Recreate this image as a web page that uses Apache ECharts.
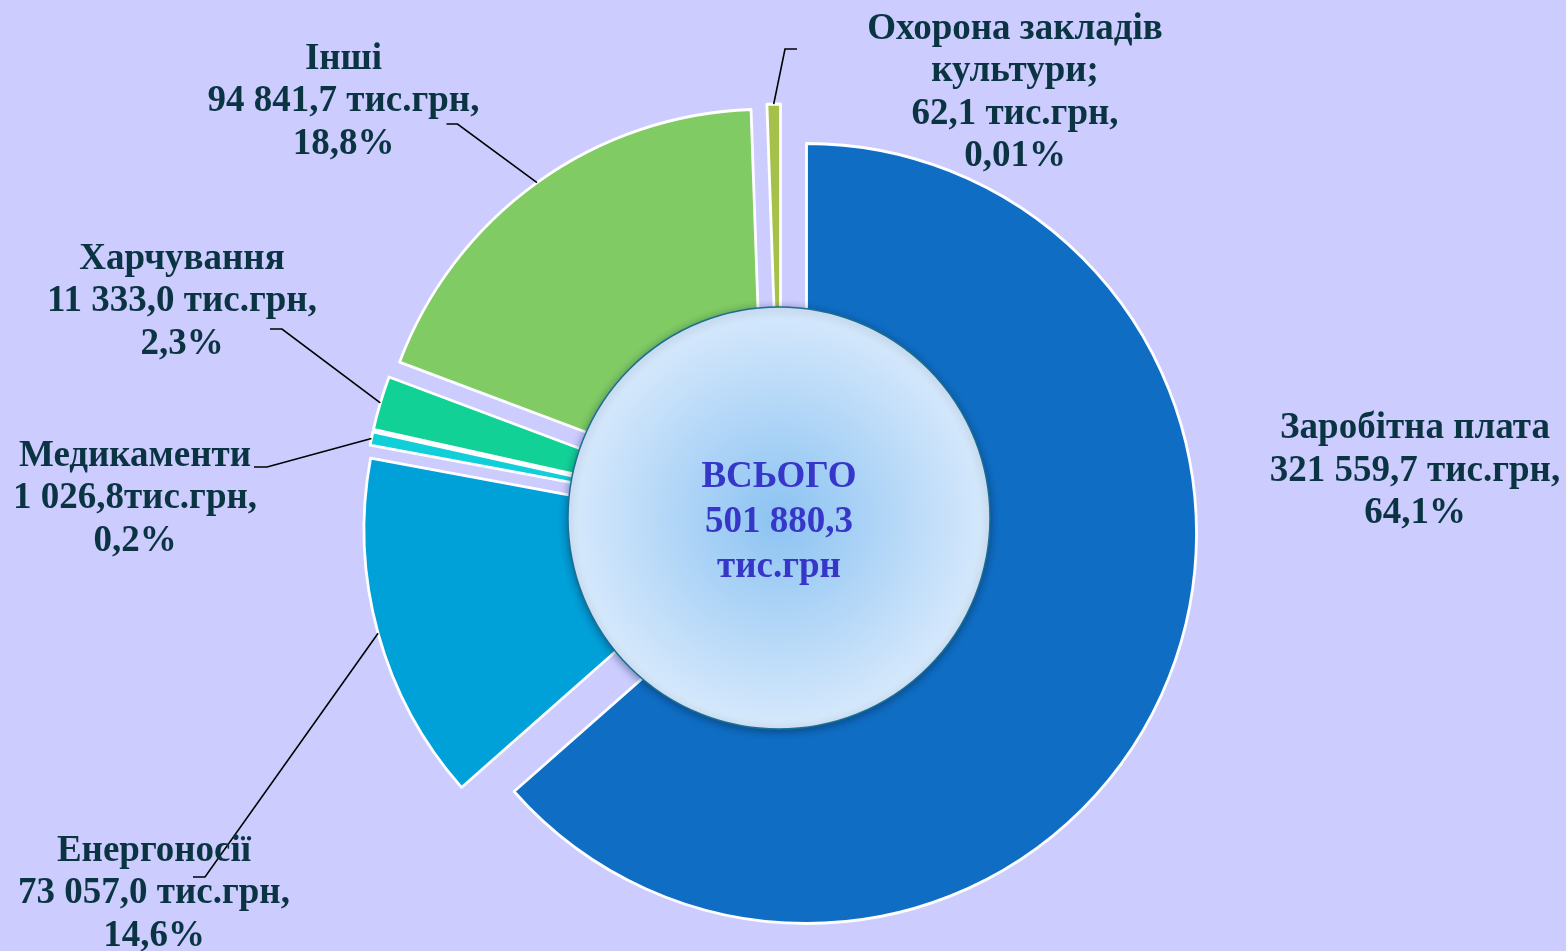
<!DOCTYPE html>
<html><head><meta charset="utf-8">
<script src="https://cdn.jsdelivr.net/npm/echarts@6/dist/echarts.min.js"></script>
<style>html,body{margin:0;padding:0;background:#CCCCFF;} #chart{width:1566px;height:951px;}</style>
</head><body><div id="chart"></div>
<script>
// ---- data ----
const categories = ['Заробітна плата', 'Енергоносії', 'Медикаменти', 'Харчування', 'Інші', 'Охорона закладів\nкультури;'];
const values = [321559.7, 73057.0, 1026.8, 11333.0, 94841.7, 62.1];
const percentLabels = ['64,1%', '14,6%', '0,2%', '2,3%', '18,8%', '0,01%'];
const unitSeparators = [' ', ' ', '', ' ', ' ', ' '];
const unitText = 'тис.грн';
const totalTitle = 'ВСЬОГО';

// ---- styles / layout ----
const colors = ['#0F6EC4', '#00A0D8', '#10CFD9', '#12D197', '#80CB63', '#A6C14A'];
const pieCenter = [781, 522];
const pieRadius = [160, 390];
const explode = 28;
const labelPlacement = [
  { x: 1415, y: 471, elbow: null, end: null },
  { x: 154, y: 893.5, elbow: [51, -16.5], end: [39, -16.5] },
  { x: 135, y: 498.5, elbow: [132, -31.5], end: [119, -31.5] },
  { x: 182, y: 301.5, elbow: [100, 27.5], end: [88, 27.5] },
  { x: 343.5, y: 101.5, elbow: [114, 22.5], end: [103, 22.5] },
  { x: 1015, y: 93, elbow: [-230, -44], end: [-218, -44] }
];
const serif = '"Liberation Serif", "Times New Roman", "DejaVu Serif", serif';

function fmt(v) {
  const parts = v.toFixed(1).split('.');
  return parts[0].replace(/\B(?=(\d{3})+(?!\d))/g, ' ') + ',' + parts[1];
}
const total = values.reduce((a, b) => a + b, 0);

const common = {
  type: 'pie',
  center: pieCenter,
  radius: pieRadius,
  startAngle: 90,
  clockwise: true,
  minAngle: 2,
  avoidLabelOverlap: false,
  emphasis: { disabled: true }
};

const chart = echarts.init(document.getElementById('chart'), null, { renderer: 'canvas' });
chart.setOption({
  backgroundColor: '#CCCCFF',
  animation: false,
  series: [
    // visible exploded doughnut
    Object.assign({}, common, {
      selectedMode: 'multiple',
      selectedOffset: explode,
      silent: true,
      itemStyle: { borderColor: '#FFFFFF', borderWidth: 2.8 },
      label: { show: false },
      labelLine: { show: false },
      data: categories.map(function (c, i) {
        return { name: c, value: values[i], selected: true, itemStyle: { color: colors[i] } };
      })
    }),
    // label carrier (same layout, transparent)
    Object.assign({}, common, {
      silent: true,
      z: 3,
      itemStyle: { color: 'rgba(0,0,0,0)', borderWidth: 0 },
      label: {
        show: true,
        position: 'outside',
        formatter: function (p) {
          const i = p.dataIndex;
          return p.name + '\n' + fmt(p.value) + unitSeparators[i] + unitText + ',\n' + percentLabels[i];
        },
        fontFamily: serif,
        fontWeight: 'bold',
        fontSize: 37,
        lineHeight: 42.5,
        color: '#0B3443',
        align: 'center'
      },
      labelLine: { show: true, length: 20, length2: 10, lineStyle: { color: '#000000', width: 1.6 } },
      labelLayout: function (params) {
        const pl = labelPlacement[params.dataIndex];
        const out = { x: pl.x, y: pl.y, align: 'center', verticalAlign: 'middle' };
        if (pl.elbow && params.labelLinePoints) {
          const p0 = params.labelLinePoints[0];
          const a = Math.atan2(p0[1] - pieCenter[1], p0[0] - pieCenter[0]);
          const start = [p0[0] + explode * Math.cos(a), p0[1] + explode * Math.sin(a)];
          out.labelLinePoints = [
            start,
            [pl.x + pl.elbow[0], pl.y + pl.elbow[1]],
            [pl.x + pl.end[0], pl.y + pl.end[1]]
          ];
        }
        return out;
      },
      data: categories.map(function (c, i) {
        return {
          name: c,
          value: values[i],
          labelLine: { show: labelPlacement[i].elbow !== null }
        };
      })
    }),
    // centre disc with total
    {
      type: 'pie',
      center: [779, 518],
      radius: [0, 211],
      silent: true,
      z: 5,
      emphasis: { disabled: true },
      data: [{ name: totalTitle, value: total }],
      label: {
        show: true,
        position: 'center',
        formatter: function (p) { return p.name + '\n' + fmt(p.value) + '\n' + unitText; },
        fontFamily: serif,
        fontWeight: 'bold',
        fontSize: 37,
        lineHeight: 45,
        offset: [0, 4],
        color: '#3636C8'
      },
      labelLine: { show: false },
      itemStyle: {
        color: {
          type: 'radial', x: 0.5, y: 0.5, r: 0.5,
          colorStops: [
            { offset: 0, color: '#8CC3F2' },
            { offset: 1, color: '#D7E9FC' }
          ]
        },
        borderColor: '#1B6F8F',
        borderWidth: 1.5,
        shadowBlur: 8,
        shadowColor: 'rgba(0,30,70,0.45)',
        shadowOffsetY: 2
      }
    }
  ]
});
</script>
</body></html>
